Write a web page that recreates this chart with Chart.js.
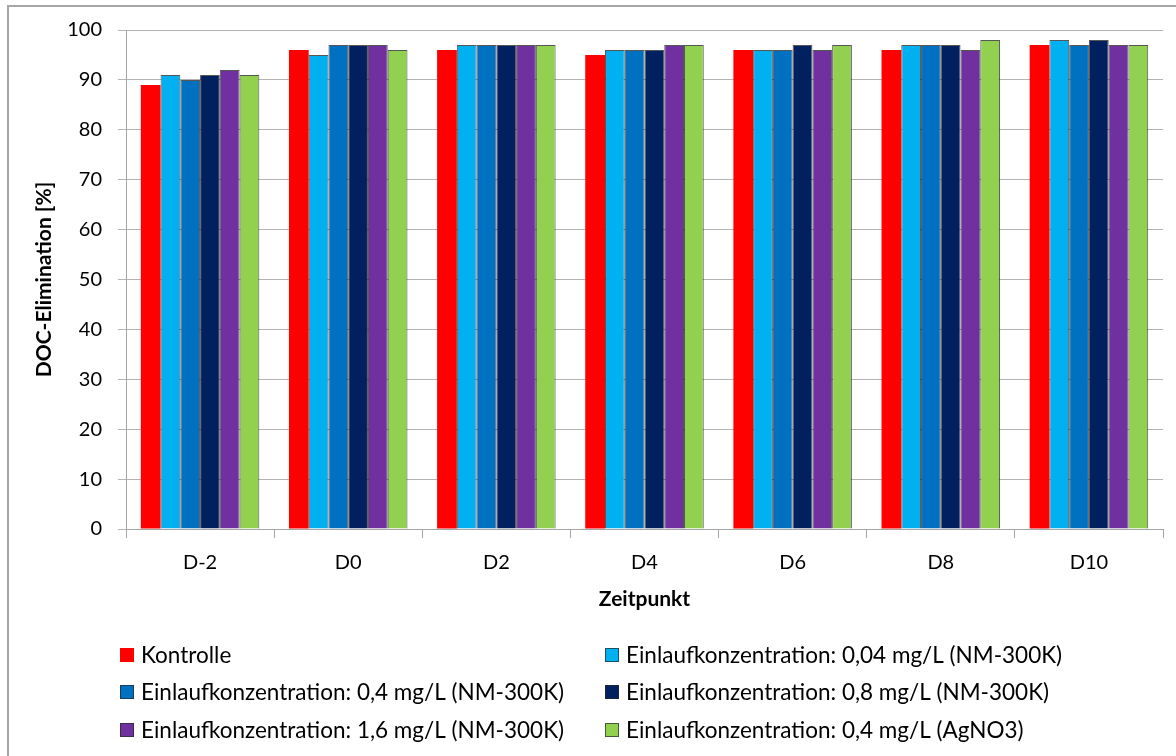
<!DOCTYPE html>
<html>
<head>
<meta charset="utf-8">
<title>DOC-Elimination</title>
<script src="https://cdn.jsdelivr.net/npm/chart.js@4.4.1/dist/chart.umd.min.js"></script>
<style>
  html, body { margin: 0; padding: 0; background: #ffffff; }
  #wrap { position: relative; width: 1176px; height: 756px; }
</style>
</head>
<body>
<div id="wrap"><canvas id="chart" width="1176" height="756"></canvas></div>
<script>
const zeitpunkte = ['D-2', 'D0', 'D2', 'D4', 'D6', 'D8', 'D10'];

const seriesNames = [
  'Kontrolle',
  'Einlaufkonzentration: 0,04 mg/L (NM-300K)',
  'Einlaufkonzentration: 0,4 mg/L (NM-300K)',
  'Einlaufkonzentration: 0,8 mg/L (NM-300K)',
  'Einlaufkonzentration: 1,6 mg/L (NM-300K)',
  'Einlaufkonzentration: 0,4 mg/L (AgNO3)'
];

const kontrolle = [89, 96, 96, 95, 96, 96, 97];
const nm004 = [91, 95, 97, 96, 96, 97, 98];
const nm04 = [90, 97, 97, 96, 96, 97, 97];
const nm08 = [91, 97, 97, 96, 97, 97, 98];
const nm16 = [92, 97, 97, 97, 96, 96, 97];
const agno3 = [91, 96, 97, 97, 97, 98, 97];

const yTicks = [0, 10, 20, 30, 40, 50, 60, 70, 80, 90, 100];

const colors = ['#FF0000', '#00B0F0', '#0070C0', '#002060', '#7030A0', '#92D050'];
const values = [kontrolle, nm004, nm04, nm08, nm16, agno3];

const FONT = 'Lato, "Open Sans", sans-serif';

// outer frame of the chart object
const framePlugin = {
  id: 'frame',
  beforeDraw(chart) {
    const ctx = chart.ctx;
    ctx.save();
    ctx.strokeStyle = '#a6a6a6';
    ctx.lineWidth = 2;
    ctx.beginPath();
    ctx.moveTo(8, 760);
    ctx.lineTo(8, 6);
    ctx.lineTo(1180, 6);
    ctx.stroke();
    ctx.restore();
  }
};

// two-column legend below the axis title
const legendPlugin = {
  id: 'twoColLegend',
  afterDraw(chart) {
    const ctx = chart.ctx;
    const colX = [120, 605];
    const rowY = [655, 692, 730];
    ctx.save();
    ctx.font = '22.5px ' + FONT;
    ctx.textBaseline = 'middle';
    chart.data.datasets.forEach((ds, i) => {
      const x = colX[i % 2];
      const y = rowY[Math.floor(i / 2)];
      ctx.fillStyle = ds.backgroundColor;
      ctx.fillRect(x, y - 7, 14, 14);
      if (ds.borderWidth) {
        ctx.strokeStyle = 'rgba(40,40,40,0.7)';
        ctx.lineWidth = 1;
        ctx.strokeRect(x + 0.5, y - 6.5, 13, 13);
      }
      ctx.fillStyle = '#000';
      ctx.fillText(ds.label, x + 21, y + 1);
    });
    ctx.restore();
  }
};

const datasets = seriesNames.map((name, i) => ({
  label: name,
  data: values[i],
  backgroundColor: colors[i],
  borderColor: 'rgba(30,30,30,0.75)',
  borderWidth: i === 0 ? 0 : 1,
  borderSkipped: 'bottom',
  categoryPercentage: 0.8,
  barPercentage: 1.0
}));

new Chart(document.getElementById('chart'), {
  type: 'bar',
  data: { labels: zeitpunkte, datasets: datasets },
  plugins: [framePlugin, legendPlugin],
  options: {
    responsive: false,
    animation: false,
    layout: { padding: { left: 8, right: 13, top: 30, bottom: 142 } },
    plugins: {
      legend: { display: false },
      tooltip: { enabled: false }
    },
    scales: {
      x: {
        afterFit: s => { s.height = 85; },
        grid: {
          drawOnChartArea: false,
          drawTicks: true,
          tickLength: 9,
          offset: true,
          color: '#a6a6a6'
        },
        border: { color: '#a6a6a6', width: 1 },
        ticks: { color: '#000', font: { family: FONT, size: 20 }, padding: 13 },
        title: {
          display: true,
          text: 'Zeitpunkt',
          color: '#000',
          font: { family: FONT, size: 21, weight: 'bold' },
          padding: { top: 0, bottom: 2 }
        }
      },
      y: {
        min: 0,
        max: 100,
        afterFit: s => { s.width = 118; },
        afterBuildTicks: s => { s.ticks = yTicks.map(v => ({ value: v })); },
        grid: { color: '#b4b4b4', tickLength: 8, drawTicks: true },
        border: { color: '#a6a6a6', width: 1 },
        ticks: { color: '#000', font: { family: FONT, size: 20 }, padding: 16 },
        title: {
          display: true,
          text: 'DOC-Elimination [%]',
          color: '#000',
          font: { family: FONT, size: 21, weight: 'bold' },
          padding: { top: 24, bottom: 0 }
        }
      }
    }
  }
});
</script>
</body>
</html>
